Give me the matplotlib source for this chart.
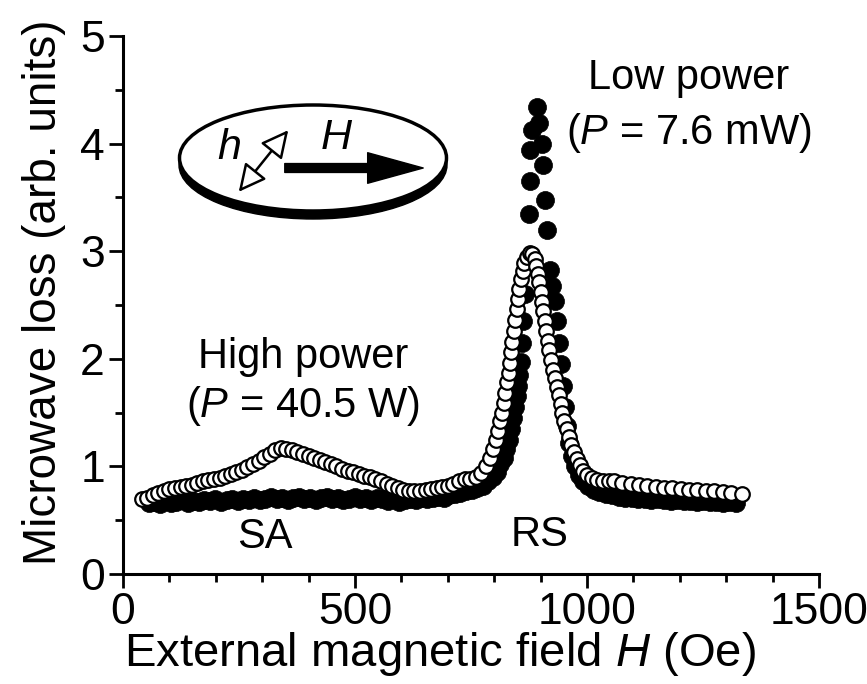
import matplotlib
matplotlib.use("Agg")
import matplotlib.pyplot as plt
from matplotlib.patches import Ellipse, FancyArrowPatch

plt.rcParams['font.family'] = ['Liberation Sans', 'DejaVu Sans']
plt.rcParams['mathtext.fontset'] = 'custom'
plt.rcParams['mathtext.rm'] = 'Liberation Sans'
plt.rcParams['mathtext.it'] = 'Liberation Sans:italic'

# low power (filled circles): field in Oe, loss in arb. units
low_h = [55, 67, 79, 91, 103, 115, 127, 139, 151, 163, 175, 187, 199, 211, 223,
         235, 247, 259, 271, 283, 295, 307, 319, 331, 343, 355, 367, 379, 391,
         403, 415, 427, 439, 451, 463, 475, 487, 499, 511, 523, 535, 547, 559,
         571, 583, 595, 607, 619, 631, 643, 655, 667, 679, 691, 703, 715, 727,
         739, 751, 763, 775, 787, 797, 806, 813, 820, 826, 831, 836, 840, 844,
         848, 851, 854, 857, 860, 863, 866, 871, 874, 914, 878, 910, 878, 906,
         881, 903, 896, 892, 921, 925, 931, 936, 940, 944, 948, 952, 957, 962,
         968, 975, 983, 992, 1002, 1014, 1026, 1040, 1054, 1068, 1082, 1096,
         1110, 1124, 1138, 1152, 1166, 1180, 1194, 1208, 1222, 1236, 1250, 1264,
         1278, 1292, 1306, 1320]
low_loss = [0.66, 0.67, 0.65, 0.68, 0.66, 0.67, 0.69, 0.66, 0.68, 0.67, 0.69,
            0.68, 0.70, 0.67, 0.69, 0.70, 0.68, 0.70, 0.69, 0.71, 0.69, 0.70,
            0.72, 0.70, 0.71, 0.69, 0.71, 0.72, 0.70, 0.71, 0.69, 0.71, 0.72,
            0.70, 0.71, 0.69, 0.70, 0.72, 0.70, 0.71, 0.69, 0.71, 0.70, 0.68,
            0.70, 0.67, 0.69, 0.70, 0.69, 0.71, 0.70, 0.71, 0.72, 0.71, 0.73,
            0.74, 0.75, 0.77, 0.78, 0.80, 0.82, 0.86, 0.90, 0.95, 1.02, 1.08,
            1.16, 1.25, 1.35, 1.45, 1.55, 1.65, 1.75, 1.85, 1.97, 2.15, 2.35,
            2.60, 2.90, 3.35, 3.20, 3.65, 3.48, 3.94, 3.80, 4.13, 4.00, 4.19,
            4.34, 2.83, 2.68, 2.54, 2.35, 2.15, 1.95, 1.75, 1.55, 1.38, 1.22,
            1.10, 1.00, 0.92, 0.86, 0.82, 0.78, 0.76, 0.74, 0.73, 0.72, 0.71,
            0.71, 0.70, 0.70, 0.69, 0.70, 0.69, 0.68, 0.69, 0.68, 0.68, 0.67,
            0.68, 0.67, 0.67, 0.66, 0.67, 0.66]

# high power (open circles)
high_h = [40, 52, 64, 76, 88, 100, 112, 124, 136, 148, 160, 172, 184, 196, 208,
          220, 232, 244, 256, 268, 280, 292, 304, 316, 328, 340, 352, 364, 376,
          388, 400, 412, 424, 436, 448, 460, 472, 484, 496, 508, 520, 532, 544,
          556, 568, 580, 592, 604, 616, 628, 640, 652, 664, 676, 688, 700, 712,
          724, 736, 748, 760, 772, 782, 790, 797, 803, 808, 813, 817, 821, 824,
          828, 831, 834, 837, 839, 842, 845, 848, 851, 854, 857, 861, 865, 870,
          876, 882, 887, 891, 894, 897, 900, 903, 906, 909, 912, 915, 919, 923,
          927, 931, 935, 939, 943, 947, 951, 956, 961, 966, 972, 978, 985, 992,
          1000, 1010, 1022, 1035, 1047, 1058, 1076, 1094, 1112, 1130, 1148,
          1166, 1184, 1202, 1220, 1238, 1256, 1274, 1292, 1310, 1334]
high_loss = [0.70, 0.71, 0.73, 0.75, 0.77, 0.79, 0.80, 0.81, 0.82, 0.83, 0.85,
             0.86, 0.87, 0.88, 0.89, 0.91, 0.93, 0.95, 0.97, 0.99, 1.02, 1.05,
             1.09, 1.12, 1.15, 1.17, 1.16, 1.15, 1.13, 1.12, 1.10, 1.08, 1.06,
             1.04, 1.02, 1.00, 0.98, 0.96, 0.95, 0.93, 0.91, 0.90, 0.88, 0.86,
             0.84, 0.82, 0.80, 0.78, 0.77, 0.77, 0.77, 0.78, 0.79, 0.80, 0.81,
             0.82, 0.84, 0.86, 0.88, 0.88, 0.90, 0.94, 1.00, 1.08, 1.16, 1.25,
             1.33, 1.42, 1.50, 1.59, 1.68, 1.78, 1.87, 1.96, 2.06, 2.16, 2.26,
             2.36, 2.46, 2.56, 2.65, 2.74, 2.82, 2.89, 2.95, 2.98, 2.97, 2.93,
             2.86, 2.79, 2.71, 2.62, 2.53, 2.44, 2.35, 2.26, 2.17, 2.08, 1.99,
             1.90, 1.82, 1.74, 1.66, 1.58, 1.50, 1.42, 1.35, 1.27, 1.20, 1.13,
             1.07, 1.01, 0.96, 0.92, 0.89, 0.87, 0.86, 0.86, 0.86, 0.85, 0.84,
             0.83, 0.82, 0.81, 0.80, 0.80, 0.79, 0.78, 0.78, 0.77, 0.77, 0.76,
             0.75, 0.74]

fig = plt.figure(figsize=(8.67, 6.84), dpi=100)
ax = fig.add_axes([0.1419, 0.1608, 0.8028, 0.7865])

ax.plot(low_h, low_loss, 'o', ms=13, mfc='black', mec='black', mew=0.5,
        clip_on=False, zorder=3)
ax.plot(high_h, high_loss, 'o', ms=10.5, mfc='white', mec='black', mew=1.6,
        clip_on=False, zorder=4)

ax.set_xlim(0, 1500)
ax.set_ylim(0, 5)
ax.set_xticks([0, 500, 1000, 1500])
ax.set_xticks(range(100, 1500, 100), minor=True)
ax.set_yticks([0, 1, 2, 3, 4, 5])
ax.set_yticks([0.5, 1.5, 2.5, 3.5, 4.5], minor=True)
for side in ['top', 'right']:
    ax.spines[side].set_visible(False)
for side in ['left', 'bottom']:
    ax.spines[side].set_linewidth(2.2)
ax.tick_params(which='major', direction='out', length=10, width=2, labelsize=32, pad=3)
ax.tick_params(which='minor', direction='out', length=6, width=2)

ax.set_xlabel('External magnetic field $\\mathit{H}$ (Oe)', fontsize=34)
ax.set_ylabel('Microwave loss (arb. units)', fontsize=33)
ax.xaxis.set_label_coords(0.455, -0.105)
ax.yaxis.set_label_coords(-0.082, 0.524)

# annotations placed in figure pixel space
over = fig.add_axes([0, 0, 1, 1], facecolor='none')
over.set_xlim(0, 867)
over.set_ylim(684, 0)
over.axis('off')

over.text(689, 78, 'Low power', fontsize=30, ha='center', va='center')
over.text(689, 133, '($\\mathit{P}$ = 7.6 mW)', fontsize=30, ha='center', va='center')
over.text(303, 357, 'High power', fontsize=30, ha='center', va='center')
over.text(303, 406, '($\\mathit{P}$ = 40.5 W)', fontsize=30, ha='center', va='center')
over.text(265, 537, 'SA', fontsize=30, ha='center', va='center')
over.text(540, 535, 'RS', fontsize=30, ha='center', va='center')

# sample disc sketch
over.add_patch(Ellipse((313, 165), 268, 108, fc='black', ec='black', lw=1))
over.add_patch(Ellipse((313, 158), 267, 106, fc='white', ec='black', lw=2.5))
over.text(229, 148, 'h', fontsize=31, style='italic', ha='center', va='center')
over.text(336, 138, 'H', fontsize=31, style='italic', ha='center', va='center')
over.add_patch(FancyArrowPatch((237, 194), (290, 128),
                               arrowstyle='<|-|>,head_length=0.6,head_width=0.3',
                               mutation_scale=28, fc='white', ec='black', lw=1.8))
over.add_patch(FancyArrowPatch((282, 168), (426, 168),
                               arrowstyle='simple,head_length=1.0,head_width=0.55,tail_width=0.16',
                               mutation_scale=40, fc='black', ec='black', lw=1))

fig.savefig('out.png', dpi=100)
